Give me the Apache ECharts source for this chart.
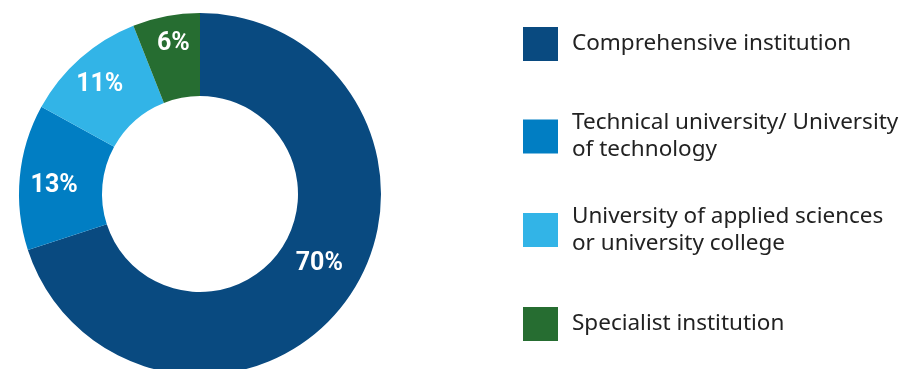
<!DOCTYPE html>
<html>
<head>
<meta charset="utf-8">
<script src="https://cdn.jsdelivr.net/npm/echarts@6/dist/echarts.min.js"></script>
<style>
  html, body { margin: 0; padding: 0; background: #ffffff; }
  #chart { width: 908px; height: 369px; }
</style>
</head>
<body>
<div id="chart"></div>
<script>
// Institution types and their shares (percent)
const categories = [
  'Comprehensive institution',
  'Technical university/ University\nof technology',
  'University of applied sciences\nor university college',
  'Specialist institution'
];
const shares = [70, 13, 11, 6];
const colors = ['#094a80', '#017ec3', '#32b4e7', '#266d31'];

// Small nudges for the in-ring percentage labels
const labelNudges = [[4, -14], [-4, 5], [-6, -2], [0, -10]];

// One legend block per category, so each row sits at its own height
const legendTops = [27, 109.5, 203, 307];

const chart = echarts.init(document.getElementById('chart'), null, { renderer: 'canvas' });

const legends = categories.map((name, i) => ({
  data: [name],
  orient: 'vertical',
  left: 523,
  top: legendTops[i],
  padding: 0,
  icon: 'rect',
  itemWidth: 35,
  itemHeight: 34,
  selectedMode: false,
  textStyle: {
    fontFamily: 'Noto Sans',
    fontSize: 22.5,
    lineHeight: 27,
    color: '#222222',
    padding: [0, 0, 0, 9]
  }
}));

chart.setOption({
  animation: false,
  color: colors,
  legend: legends,
  series: [{
    type: 'pie',
    center: [200, 194],
    radius: [98, 181],
    startAngle: 90,
    clockwise: true,
    avoidLabelOverlap: false,
    data: categories.map((name, i) => ({ name: name, value: shares[i] })),
    label: {
      show: true,
      position: 'inside',
      formatter: p => p.value + '%',
      fontFamily: 'Roboto',
      fontWeight: 'bold',
      fontSize: 25,
      color: '#ffffff'
    },
    labelLine: { show: false },
    labelLayout: p => ({ dx: labelNudges[p.dataIndex][0], dy: labelNudges[p.dataIndex][1] }),
    itemStyle: { borderWidth: 0 },
    emphasis: { disabled: true }
  }]
});
</script>
</body>
</html>
